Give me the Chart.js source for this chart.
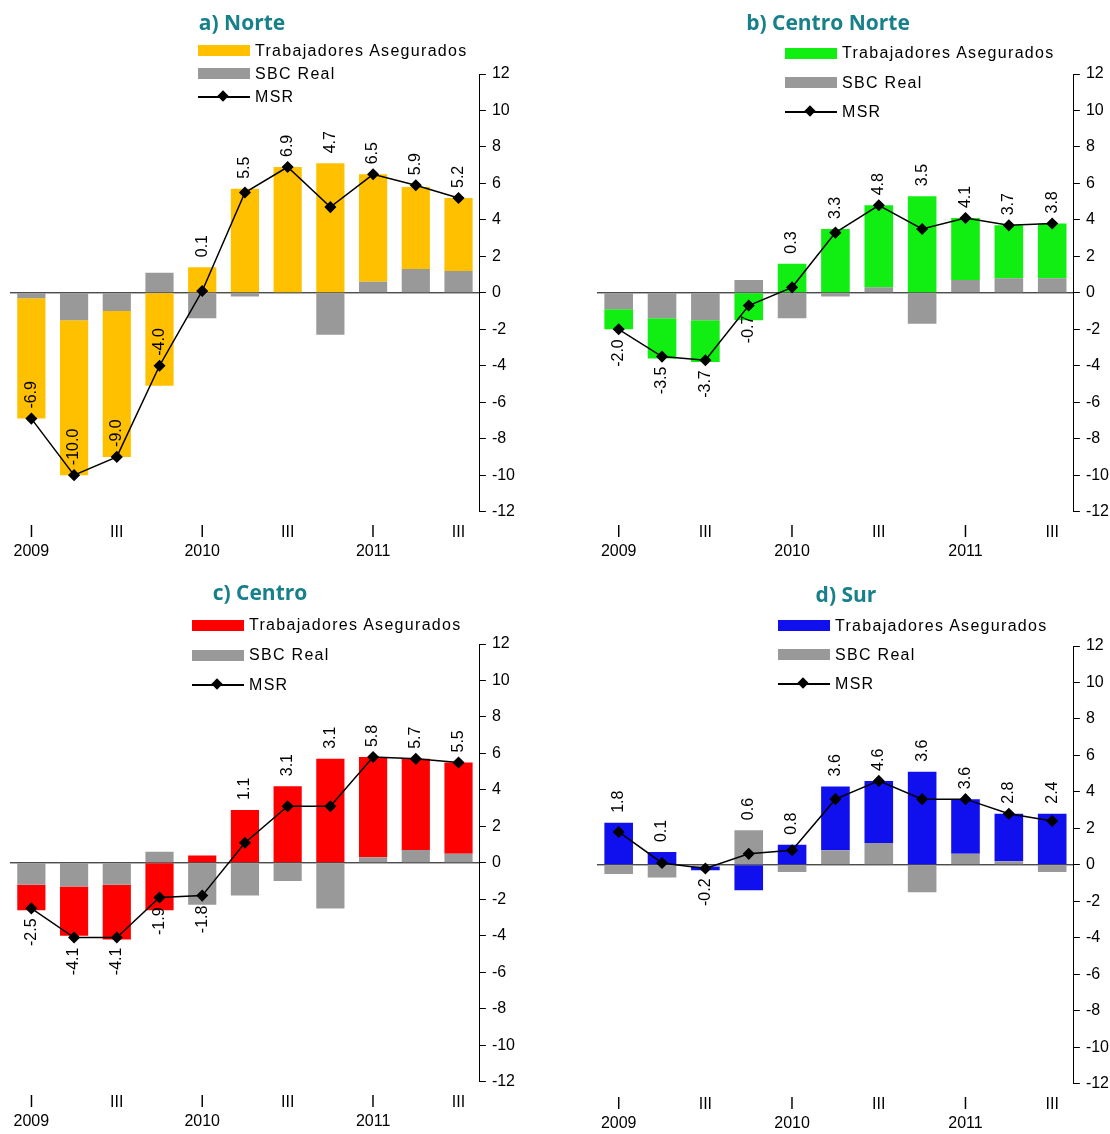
<!DOCTYPE html>
<html>
<head>
<meta charset="utf-8">
<script src="https://cdn.jsdelivr.net/npm/chart.js@4"></script>
<style>
  body { margin: 0; background: #fff; font-family: "Liberation Sans", Arial, sans-serif; overflow: hidden; }
  .panel { position: absolute; width: 560px; height: 567px; }
  .panel canvas { position: absolute; left: 0; top: 0; }
  .title { position: absolute; top: 8px; font: bold 21px "Open Sans", sans-serif; color: #17808a; transform: translateX(-50%); white-space: nowrap; }
  .legend { position: absolute; font-size: 16px; color: #000; letter-spacing: 1.3px; }
  .legend div { height: 23px; display: flex; align-items: center; }
  .sw { display: inline-block; width: 52px; height: 11px; margin-right: 5px; }
  .ln { position: relative; width: 52px; height: 2px; background: #000; margin-right: 5px; }
  .ln::after { content: ""; position: absolute; left: 21px; top: -4px; width: 8px; height: 8px; background: #000; transform: rotate(45deg); }
</style>
</head>
<body>
<div class="panel" style="left:0;top:0"><canvas id="c1"></canvas>
  <div class="title" style="left:242px">a) Norte</div>
  <div class="legend" style="left:198px;top:39px">
    <div><span class="sw" style="background:#FFC000"></span>Trabajadores Asegurados</div>
    <div><span class="sw" style="background:#999"></span>SBC Real</div>
    <div><span class="ln"></span>MSR</div>
  </div>
</div>
<div class="panel" style="left:555px;top:0"><canvas id="c2"></canvas>
  <div class="title" style="left:273px">b) Centro Norte</div>
  <div class="legend" style="left:230px;top:38px">
    <div style="height:30px"><span class="sw" style="background:#11EE11"></span>Trabajadores Asegurados</div>
    <div style="height:29px"><span class="sw" style="background:#999"></span>SBC Real</div>
    <div style="height:29px"><span class="ln"></span>MSR</div>
  </div>
</div>
<div class="panel" style="left:0;top:570px"><canvas id="c3"></canvas>
  <div class="title" style="left:260px">c) Centro</div>
  <div class="legend" style="left:192px;top:40px">
    <div style="height:30px"><span class="sw" style="background:#FF0000"></span>Trabajadores Asegurados</div>
    <div style="height:30px"><span class="sw" style="background:#999"></span>SBC Real</div>
    <div style="height:30px"><span class="ln"></span>MSR</div>
  </div>
</div>
<div class="panel" style="left:555px;top:572px"><canvas id="c4"></canvas>
  <div class="title" style="left:291px">d) Sur</div>
  <div class="legend" style="left:223px;top:39px">
    <div style="height:29px"><span class="sw" style="background:#1010EE"></span>Trabajadores Asegurados</div>
    <div style="height:29px"><span class="sw" style="background:#999"></span>SBC Real</div>
    <div style="height:29px"><span class="ln"></span>MSR</div>
  </div>
</div>
<script>
const quarters = [['I', '2009'], ['', ''], ['III', ''], ['', ''], ['I', '2010'], ['', ''], ['III', ''], ['', ''], ['I', '2011'], ['', ''], ['III', '']]

const norteTrab = [-6.6, -8.5, -8.0, -5.1, 1.4, 5.7, 6.9, 7.1, 5.9, 4.5, 4.0]
const norteSbc = [-0.3, -1.5, -1.0, 1.1, -1.4, -0.2, 0.0, -2.3, 0.6, 1.3, 1.2]
const norteMsr = [-6.9, -10.0, -9.0, -4.0, 0.1, 5.5, 6.9, 4.7, 6.5, 5.9, 5.2]

const cnorteTrab = [-1.1, -2.2, -2.3, -1.5, 1.6, 3.5, 4.5, 5.3, 3.4, 2.9, 3.0]
const cnorteSbc = [-0.9, -1.4, -1.5, 0.7, -1.4, -0.2, 0.3, -1.7, 0.7, 0.8, 0.8]
const cnorteMsr = [-2.0, -3.5, -3.7, -0.7, 0.3, 3.3, 4.8, 3.5, 4.1, 3.7, 3.8]

const centroTrab = [-1.4, -2.7, -3.0, -2.6, 0.4, 2.9, 4.2, 5.7, 5.5, 5.0, 5.0]
const centroSbc = [-1.2, -1.3, -1.2, 0.6, -2.3, -1.8, -1.0, -2.5, 0.3, 0.7, 0.5]
const centroMsr = [-2.5, -4.1, -4.1, -1.9, -1.8, 1.1, 3.1, 3.1, 5.8, 5.7, 5.5]

const surTrab = [2.3, 0.7, -0.2, -1.4, 1.1, 3.5, 3.4, 5.1, 3.0, 2.6, 2.8]
const surSbc = [-0.5, -0.7, -0.1, 1.9, -0.4, 0.8, 1.2, -1.5, 0.6, 0.2, -0.4]
const surMsr = [1.8, 0.1, -0.2, 0.6, 0.8, 3.6, 4.6, 3.6, 3.6, 2.8, 2.4]

// MSR value labels, vertical; positives sit above the top of the positive stack
const msrLabels = {
  id: 'msrLabels',
  afterDatasetsDraw(chart, args, opts) {
    const { ctx } = chart
    const y = chart.scales.y
    const meta = chart.getDatasetMeta(2)
    const ds = chart.data.datasets
    const vals = ds[2].data
    ctx.save()
    ctx.font = '16px "Liberation Sans", Arial, sans-serif'
    ctx.fillStyle = '#000'
    ctx.textBaseline = 'middle'
    meta.data.forEach((pt, i) => {
      const up = opts.allAbove || vals[i] >= 0
      let py = pt.y
      if (up && vals[i] >= 0) {
        const posTop = Math.max(0, ds[0].data[i]) + Math.max(0, ds[1].data[i])
        py = Math.min(pt.y, y.getPixelForValue(posTop))
      }
      ctx.save()
      ctx.translate(pt.x, up ? py - 10 : py + 10)
      ctx.rotate(-Math.PI / 2)
      ctx.textAlign = up ? 'left' : 'right'
      ctx.fillText(vals[i].toFixed(1), 0, 0)
      ctx.restore()
    })
    ctx.restore()
  },
}

const zeroLine = {
  id: 'zeroLine',
  beforeDatasetsDraw(chart) {
    const { ctx, chartArea } = chart
    const y = chart.scales.y.getPixelForValue(0)
    ctx.save()
    ctx.strokeStyle = '#000'
    ctx.lineWidth = 1
    ctx.beginPath()
    ctx.moveTo(chartArea.left, y)
    ctx.lineTo(chartArea.right, y)
    ctx.stroke()
    ctx.restore()
  },
}

function makePanel(id, trab, sbc, msr, color, allAbove, padLeft, padRight) {
  const canvas = document.getElementById(id)
  canvas.width = 560
  canvas.height = 567
  new Chart(canvas, {
    type: 'bar',
    data: {
      labels: quarters,
      datasets: [
        { type: 'bar', label: 'SBC Real', data: sbc, backgroundColor: '#999999', stack: 's', order: 2 },
        { type: 'bar', label: 'Trabajadores Asegurados', data: trab, backgroundColor: color, stack: 's', order: 2 },
        {
          type: 'line', label: 'MSR', data: msr, borderColor: '#000', borderWidth: 1.5,
          pointStyle: 'rectRot', pointRadius: 5, pointBackgroundColor: '#000', pointBorderColor: '#000', order: 1,
        },
      ],
    },
    options: {
      responsive: false,
      animation: false,
      layout: { padding: { top: 74, left: padLeft, right: padRight, bottom: 3 } },
      datasets: { bar: { barPercentage: 0.66, categoryPercentage: 1 } },
      plugins: { legend: { display: false }, tooltip: { enabled: false }, msrLabels: { allAbove } },
      scales: {
        x: {
          stacked: true,
          grid: { display: false },
          border: { display: false },
          ticks: { color: '#000', font: { size: 16, family: '"Liberation Sans", Arial' }, maxRotation: 0, autoSkip: false },
        },
        y: {
          stacked: true,
          position: 'right',
          min: -12, max: 12,
          ticks: { stepSize: 2, color: '#000', font: { size: 16, family: '"Liberation Sans", Arial' }, padding: 6 },
          grid: { drawOnChartArea: false, tickLength: 6, color: '#000' },
          border: { color: '#000' },
        },
      },
    },
    plugins: [zeroLine, msrLabels],
  })
}

makePanel('c1', norteTrab, norteSbc, norteMsr, '#FFC000', true, 10, 39)
makePanel('c2', cnorteTrab, cnorteSbc, cnorteMsr, '#11EE11', false, 42, 0)
makePanel('c3', centroTrab, centroSbc, centroMsr, '#FF0000', false, 10, 39)
makePanel('c4', surTrab, surSbc, surMsr, '#1010EE', false, 42, 0)
</script>
</body>
</html>
